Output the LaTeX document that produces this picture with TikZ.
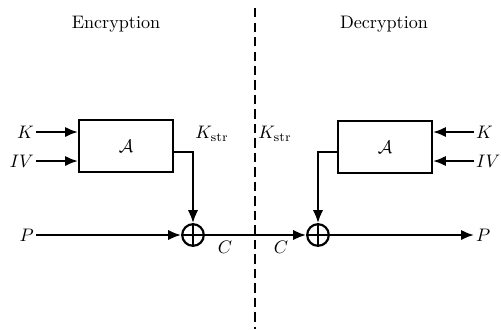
\documentclass[tikz,border=0pt]{standalone}
\usepackage{amsmath}
\usepackage{tikz}
\usetikzlibrary{arrows.meta,positioning}
\tikzset{
  blk/.style={draw, line width=1.2pt, minimum width=1.82cm, minimum height=1.0cm,
              inner sep=2pt},
  xorgate/.style={draw, circle, line width=1.2pt, minimum size=0.42cm, inner sep=0pt,
                  path picture={\draw[line width=1.2pt]
                    (path picture bounding box.north) -- (path picture bounding box.south)
                    (path picture bounding box.west) -- (path picture bounding box.east);}},
  sig/.style={-{Latex[length=2.5mm,width=2mm]}, line width=1.2pt},
  lab/.style={inner sep=1pt},
}
\begin{document}
\begin{tikzpicture}[x=0.0194cm, y=-0.0194cm]
\useasboundingbox (0,0) rectangle (501,329);

% titles and divider
\node (enc) at (116,24) {Encryption};
\node (dec) at (384,24) {Decryption};
\coordinate (top) at (255,8);
\coordinate (bot) at (255,329);
\draw[line width=1.2pt, dash pattern=on 5pt off 3pt] (top) -- (bot);

% encryption side
\node[blk] (ae) at (126,146) {$\mathcal{A}$};
\node[xorgate] (xe) at (193,235) {};
\node[lab, anchor=east] (ke) at (36,132) {$K$};
\node[lab, anchor=east] (ive) at (36,161) {$IV$};
\node[lab, anchor=east] (pe) at (36,235) {$P$};
\node[lab] (kse) at (212,134) {$K_{\text{str}}$};
\node[lab] (ce) at (225,247) {$C$};

\draw[sig] (ke) -- (ke -| ae.west);
\draw[sig] (ive) -- (ive -| ae.west);
\draw[sig] (ae.east |- 0,152) -| (xe.north);
\draw[sig] (pe) -- (xe.west);

% decryption side
\node[blk] (ad) at (385,147) {$\mathcal{A}$};
\node[xorgate] (xd) at (318,235) {};
\node[lab, anchor=west] (kd) at (474,132) {$K$};
\node[lab, anchor=west] (ivd) at (474,161) {$IV$};
\node[lab, anchor=west] (pd) at (474,235) {$P$};
\node[lab] (ksd) at (275,134) {$K_{\text{str}}$};
\node[lab] (cd) at (281,247) {$C$};

\draw[sig] (kd) -- (kd -| ad.east);
\draw[sig] (ivd) -- (ivd -| ad.east);
\draw[sig] (ad.west |- 0,152) -| (xd.north);
\draw[sig] (xe.east) -- (xd.west);
\draw[sig] (xd.east) -- (pd);

\end{tikzpicture}
\end{document}
